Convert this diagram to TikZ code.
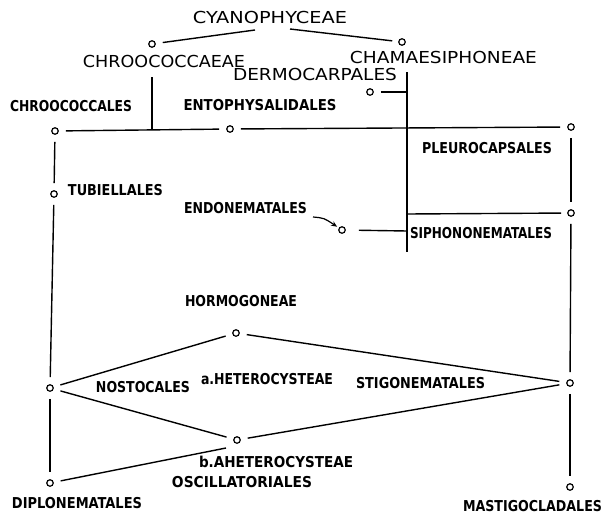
\documentclass[tikz,border=0pt]{standalone}
\usepackage{fontspec}
\usepackage{graphicx}
\setmainfont{DejaVu Sans Condensed}
\usetikzlibrary{arrows.meta}
\newcommand{\lbl}[2]{\resizebox{#1pt}{\height}{#2}}
\tikzset{
  dot/.style={circle,draw,line width=1.2pt,minimum size=6.5pt,inner sep=0pt},
  big/.style={inner sep=0pt,font=\fontsize{16.5}{18}\selectfont},
  small/.style={inner sep=0pt,font=\fontsize{15}{17}\selectfont\bfseries},
  ln/.style={line width=1.4pt},
  gap/.style={ln,shorten <=7pt,shorten >=7pt},
}
\begin{document}
\begin{tikzpicture}[x=1pt,y=-1pt]
\useasboundingbox (0,0) rectangle (604,519);
% circles
\node[dot] (chc) at (152,44) {};
\node[dot] (chm) at (402,42) {};
\node[dot] (der) at (370,92) {};
\node[dot] (chl) at (55,131) {};
\node[dot] (ent) at (230,129) {};
\node[dot] (ple) at (571,127) {};
\node[dot] (tub) at (54,194) {};
\node[dot] (endo) at (342,230) {};
\node[dot] (sip) at (571,213) {};
\node[dot] (hor) at (236,333) {};
\node[dot] (nos) at (50,388) {};
\node[dot] (sti) at (570,383) {};
\node[dot] (aht) at (237,440) {};
\node[dot] (dip) at (50,483) {};
\node[dot] (mas) at (570,487) {};
% labels
\node[big] (tcy) at (270,17) {\lbl{154}{CYANOPHYCEAE}};
\node[big] (tchc) at (164,61) {\lbl{162}{CHROOCOCCAEAE}};
\node[big] (tchm) at (443.5,57) {\lbl{187}{CHAMAESIPHONEAE}};
\node[big] (tder) at (315,74) {\lbl{164}{DERMOCARPALES}};
\node[small] (tchl) at (71,106) {\lbl{122}{CHROOCOCCALES}};
\node[small] (tent) at (260,105) {\lbl{153}{ENTOPHYSALIDALES}};
\node[small] (tple) at (487,148) {\lbl{130}{PLEUROCAPSALES}};
\node[small] (ttub) at (115.5,190) {\lbl{95}{TUBIELLALES}};
\node[small] (tendo) at (245.5,208) {\lbl{123}{ENDONEMATALES}};
\node[small] (tsip) at (481,233) {\lbl{142}{SIPHONONEMATALES}};
\node[small] (thor) at (241,301) {\lbl{112}{HORMOGONEAE}};
\node[small] (tnos) at (143,387) {\lbl{94}{NOSTOCALES}};
\node[small] (thet) at (267,379) {\lbl{132}{a.HETEROCYSTEAE}};
\node[small] (tsti) at (420.5,383) {\lbl{129}{STIGONEMATALES}};
\node[small] (taht) at (276,462) {\lbl{154}{b.AHETEROCYSTEAE}};
\node[small] (tosc) at (242,482) {\lbl{140}{OSCILLATORIALES}};
\node[small] (tdip) at (77,503) {\lbl{130}{DIPLONEMATALES}};
\node[small] (tmas) at (532.5,506) {\lbl{139}{MASTIGOCLADALES}};
% coordinates
\coordinate (cyL) at (255,30);
\coordinate (cyR) at (290,29);
\coordinate (chcTop) at (152,77);
\coordinate (chcFoot) at (152,130);
\coordinate (vTop) at (407,72);
\coordinate (vBot) at (407,252);
\coordinate (derJ) at (407,92);
\coordinate (sipJ) at (407,214);
\coordinate (endJ) at (407,231);
\coordinate (arrS) at (313,217);
\coordinate (dipEnd) at (226,448);
% connectors
\draw[ln,shorten >=7pt] (cyL) -- (chc);
\draw[ln,shorten >=6pt] (cyR) -- (chm);
\draw[ln] (chcTop) -- (chcFoot);
\draw[gap] (chl) -- (ent);
\draw[gap] (ent) -- (ple);
\draw[ln] (vTop) -- (vBot);
\draw[ln,shorten <=7pt] (der) -- (derJ);
\draw[ln,shorten >=6pt] (sipJ) -- (sip);
\draw[ln,shorten <=13pt] (endo) -- (endJ);
\draw[line width=1.2pt,-{Stealth[length=6pt,width=5pt]},shorten >=2pt] (arrS) .. controls (324,218) .. (endo);
\draw[gap] (ple) -- (sip);
\draw[gap] (sip) -- (sti);
\draw[gap] (sti) -- (mas);
\draw[gap] (chl) -- (tub);
\draw[gap] (tub) -- (nos);
\draw[gap] (nos) -- (dip);
\draw[gap] (nos) -- (hor);
\draw[gap] (nos) -- (aht);
\draw[gap] (hor) -- (sti);
\draw[gap] (aht) -- (sti);
\draw[ln,shorten <=7pt] (dip) -- (dipEnd);
\end{tikzpicture}
\end{document}
